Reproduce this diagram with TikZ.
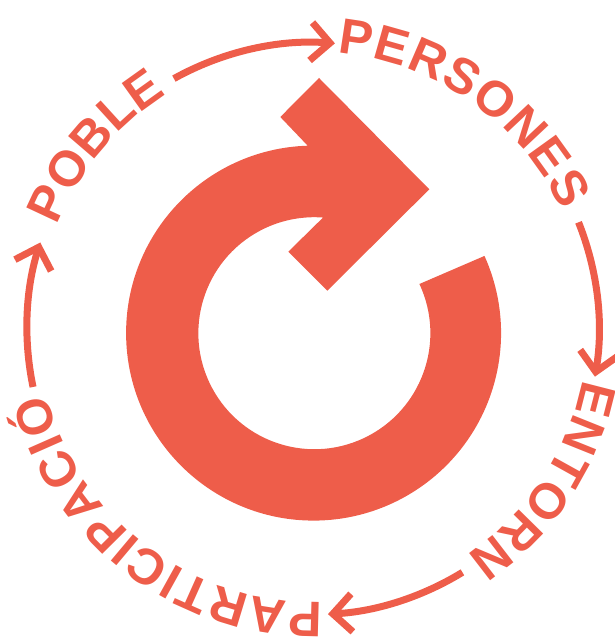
\documentclass[tikz,border=0pt]{standalone}
\usepackage{fontspec}
\setmainfont{Liberation Sans}
\usetikzlibrary{arrows.meta,decorations.text}

\definecolor{coral}{HTML}{EE5D4A}
\newcommand{\wordfont}{\fontsize{50}{50}\selectfont\bfseries}

\tikzset{
	turn/.style={draw=none, fill=coral},
	circuit/.style={draw=coral, line width=7pt, -{Straight Barb[length=19pt, width=38pt, line width=7pt]}},
}

\begin{document}
\begin{tikzpicture}[x=1pt, y=1pt]
	
	\useasboundingbox (0,0) rectangle (614,637);
	
	\coordinate (ring) at (313.5,303.5);
	\coordinate (rim) at (313,308.5);
	\coordinate (base) at (313,310);
	
	% big arrow in the middle
	\fill[turn] (307.7,491.3) arc[start angle=91.8, end angle=384.3, radius=187.5]
		-- (419.4,353) arc[start angle=385.1, end angle=85.7, radius=116]
		-- (288.3,385.3) -- (327.3,346.3) -- (429.3,447.7) -- (319,559) -- (280.3,520) -- cycle;
	
	% arrows between the words
	\foreach \from/\to in {119.1/85.6, 21.8/-9.7, -58.5/-87, 191.8/162.5}
	\draw[circuit] (rim) ++(\from:286) arc[start angle=\from, end angle=\to, radius=286];
	
	% words
	\path[decorate, decoration={text along path, text color=coral, text align=fit to path, text format delimiters={|}{|}, text={|\wordfont|POBLE}}]
		(base) ++(158.4:275) arc[start angle=158.4, end angle=122.1, radius=275];
	\path[decorate, decoration={text along path, text color=coral, text align=fit to path, text format delimiters={|}{|}, text={|\wordfont|PERSONES}}]
		(base) ++(84.9:275) arc[start angle=84.9, end angle=25, radius=275];
	\path[decorate, decoration={text along path, text color=coral, text align=fit to path, text format delimiters={|}{|}, text={|\wordfont|ENTORN}}]
		(base) ++(-10.9:275) arc[start angle=-10.9, end angle=-56.1, radius=275];
	\path[decorate, decoration={text along path, text color=coral, text align=fit to path, text format delimiters={|}{|}, text={|\wordfont|PARTICIPACIÓ}}]
		(base) ++(-88:275) arc[start angle=-88, end angle=-166, radius=275];
	
\end{tikzpicture}
\end{document}
